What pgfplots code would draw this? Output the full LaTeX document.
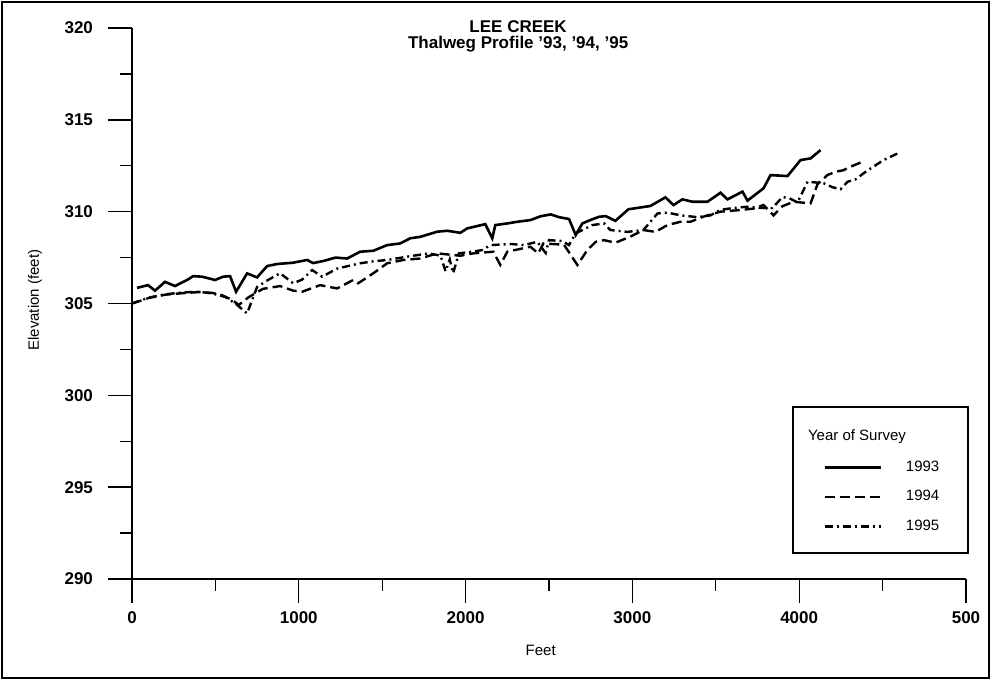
\documentclass[border=0pt]{standalone}
\usepackage{pgfplots}
\pgfplotsset{compat=1.18}
\usepackage{pgfplotstable}
\usepackage{fontspec}
\setmainfont{Liberation Sans}

\pgfplotstableread{
x y
30 305.85
96 306.00
138 305.70
198 306.18
258 305.95
336 306.31
366 306.49
420 306.46
498 306.28
546 306.46
588 306.49
624 305.64
690 306.64
750 306.42
810 307.04
870 307.15
966 307.22
1050 307.37
1086 307.20
1150 307.32
1220 307.50
1290 307.45
1368 307.82
1446 307.87
1530 308.18
1608 308.27
1668 308.55
1728 308.63
1830 308.91
1890 308.96
1968 308.85
2010 309.09
2118 309.32
2160 308.55
2178 309.27
2250 309.36
2310 309.45
2388 309.54
2450 309.75
2510 309.85
2560 309.70
2620 309.60
2660 308.73
2700 309.36
2750 309.55
2800 309.72
2840 309.76
2898 309.50
2976 310.13
3108 310.31
3198 310.78
3246 310.36
3300 310.67
3360 310.54
3450 310.54
3528 311.03
3570 310.67
3660 311.09
3690 310.60
3786 311.27
3828 311.99
3930 311.94
4008 312.81
4068 312.90
4128 313.35
}\yearA

\pgfplotstableread{
x y
0 305.00
100 305.30
200 305.48
300 305.56
400 305.62
480 305.58
540 305.45
600 305.20
640 304.92
700 305.35
786 305.80
888 305.95
966 305.70
1020 305.64
1128 306.00
1230 305.82
1326 306.28
1356 306.10
1446 306.64
1530 307.19
1626 307.37
1728 307.45
1830 307.73
1968 307.60
2046 307.73
2166 307.82
2208 307.10
2250 307.82
2388 308.09
2436 307.73
2466 308.27
2590 308.20
2670 307.10
2730 307.91
2780 308.36
2830 308.45
2898 308.31
2988 308.64
3066 309.00
3138 308.90
3210 309.27
3288 309.45
3348 309.45
3426 309.73
3528 310.00
3648 310.09
3726 310.17
3786 310.36
3846 309.80
3900 310.30
3966 310.54
4068 310.45
4110 311.50
4170 312.00
4218 312.17
4266 312.26
4308 312.45
4380 312.72
}\yearB

\pgfplotstableread{
x y
0 305.00
100 305.32
200 305.50
300 305.60
400 305.64
480 305.55
560 305.35
620 305.00
690 304.46
750 305.90
800 306.20
888 306.65
966 306.10
1020 306.30
1080 306.82
1140 306.46
1230 306.90
1300 307.05
1368 307.19
1450 307.30
1530 307.37
1650 307.55
1780 307.73
1850 307.60
1880 306.75
1905 307.40
1925 306.65
1960 307.73
2040 307.82
2100 307.91
2150 308.18
2270 308.24
2350 308.18
2430 308.36
2480 307.75
2500 308.45
2580 308.40
2620 308.18
2660 308.82
2760 309.27
2830 309.36
2868 309.00
2970 308.90
3066 309.00
3150 309.90
3210 309.95
3288 309.80
3390 309.70
3468 309.80
3528 310.10
3606 310.20
3690 310.27
3768 310.20
3840 310.20
3900 310.80
3948 310.70
3990 310.50
4050 311.63
4146 311.55
4200 311.33
4248 311.22
4290 311.63
4338 311.76
4398 312.17
4428 312.35
4506 312.81
4590 313.17
}\yearC

\tikzset{
  dashA/.style={dash pattern=on 5pt off 2.5pt},
  dashdotA/.style={dash pattern=on 4pt off 2pt on 1pt off 2pt},
}

\begin{document}
\begin{tikzpicture}[x=1pt,y=1pt]
\path[use as bounding box] (-66,-50.5) rectangle (429.5,289.5);
\draw[line width=0.9pt] (-65,-49.5) rectangle (428.5,288.5);
\begin{axis}[
  at={(0,0)}, anchor=south west,
  scale only axis, width=417pt, height=275.5pt,
  xmin=0, xmax=5000, ymin=290, ymax=320,
  axis x line=bottom, axis y line=left,
  axis line style={-, line width=0.8pt},
  tick align=outside,
  major tick style={line width=0.7pt, black},
  minor tick style={line width=0.6pt, black},
  major tick length=12pt, minor tick length=6pt,
  xtick={0,1000,2000,3000,4000,5000},
  xticklabels={0,1000,2000,3000,4000,500},
  ytick={290,295,300,305,310,315,320},
  yticklabels={290,295,300,305,310,315,320},
  minor x tick num=1, minor y tick num=1,
  ticklabel style={font=\bfseries\fontsize{8.5}{9}\selectfont},
  xticklabel style={yshift=-1pt},
  yticklabel style={xshift=-4pt},
  xlabel={Feet}, ylabel={Elevation (feet)},
  every axis x label/.style={at={(axis description cs:0.49,0)}, anchor=center, yshift=-35.5pt, font=\fontsize{7.5}{9}\selectfont},
  every axis y label/.style={at={(axis description cs:-0.1163,0.506)}, rotate=90, anchor=center, font=\fontsize{7.5}{9}\selectfont},
  title={LEE CREEK\\Thalweg Profile '93, '94, '95},
  title style={at={(axis description cs:0.463,1)}, anchor=north, yshift=1pt, align=center, font=\bfseries\fontsize{8.5}{8}\selectfont},
  legend style={draw=none, fill=none, at={(axis description cs:0.8285,0.1488)}, anchor=west,
    font=\fontsize{7.5}{9}\selectfont, row sep=4pt, column sep=10pt, inner sep=0pt},
  legend cell align=left,
  legend image code/.code={\draw[#1] (0pt,0pt) -- (28pt,0pt);},
]
\addplot[black, line width=1.3pt] table {\yearA};
\addlegendentry{1993}
\addplot[black, line width=1.2pt, dashA] table {\yearB};
\addlegendentry{1994}
\addplot[black, line width=1.2pt, dashdotA] table {\yearC};
\addlegendentry{1995}
\end{axis}
\draw[line width=0.8pt] (330.5,13) rectangle (418,86);
\node[font=\fontsize{7.5}{9}\selectfont] at (362.5,71) {Year of Survey};
\end{tikzpicture}
\end{document}
